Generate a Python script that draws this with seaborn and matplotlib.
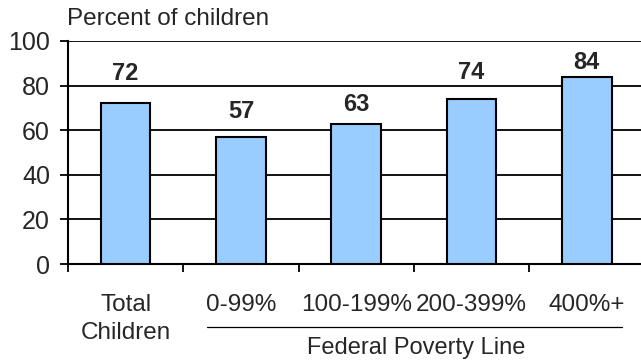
import matplotlib
matplotlib.use("Agg")
import matplotlib.pyplot as plt
import seaborn as sns
import pandas as pd

# -------------------------------------------------
# Data
# -------------------------------------------------
categories = ["Total\nChildren", "0-99%", "100-199%", "200-399%", "400%+"]
values = [72, 57, 63, 74, 84]
label_offsets = [30, 25, 19, 26, 14]  # px above bar top, as in original
y_ticks = [0, 20, 40, 60, 80, 100]

df = pd.DataFrame({"group": categories, "pct": values})

sns.set_style("white")
plt.rcParams["font.family"] = ["Liberation Sans", "DejaVu Sans"]

fig = plt.figure(figsize=(6.41, 3.62), dpi=100)
ax = fig.add_axes([68 / 641, 98 / 362, 576.5 / 641, 223 / 362])

sns.barplot(data=df, x="group", y="pct", color="#99CCFF", saturation=1,
            width=0.43, edgecolor="black", linewidth=1.5, ax=ax, zorder=3)

ax.set_xlim(-0.5, 4.5)
ax.set_ylim(0, 100)
ax.set_yticks(y_ticks)
ax.yaxis.grid(True, color="black", linewidth=1.3, zorder=0)
ax.set_axisbelow(True)
ax.set_xlabel("")
ax.set_ylabel("")

for side in ["top", "right"]:
    ax.spines[side].set_visible(False)
ax.spines["left"].set_color("black")
ax.spines["left"].set_linewidth(1.5)
ax.spines["bottom"].set_color("black")
ax.spines["bottom"].set_linewidth(1.5)

ax.tick_params(axis="y", which="major", direction="out", length=6, width=1.3,
               color="black", labelsize=18, pad=7, left=True)
ax.tick_params(axis="x", which="major", length=0, labelsize=17.5, pad=21.5)
ax.set_xticks([i - 0.5 for i in range(6)], minor=True)
ax.tick_params(axis="x", which="minor", direction="out", length=6, width=1.3,
               color="black", bottom=True)
for lbl in ax.get_xticklabels():
    lbl.set_linespacing(1.35)

# value labels
for i, (v, off) in enumerate(zip(values, label_offsets)):
    ax.annotate(str(v), xy=(i, v), xytext=(0, off), textcoords="offset pixels",
                ha="center", va="center", fontsize=17, fontweight="bold")

# Federal Poverty Line bracket
trans = ax.get_xaxis_transform()
ax.plot([0.705, 4.305], [-0.283, -0.283], color="black", linewidth=0.9,
        transform=trans, clip_on=False)
ax.text(2.52, -0.378, "Federal Poverty Line", transform=trans, ha="center",
        va="center", fontsize=17)

fig.text(67 / 641, 1 - 19 / 362, "Percent of children", ha="left",
         va="center", fontsize=17.5)

fig.savefig("out.png", dpi=100)
